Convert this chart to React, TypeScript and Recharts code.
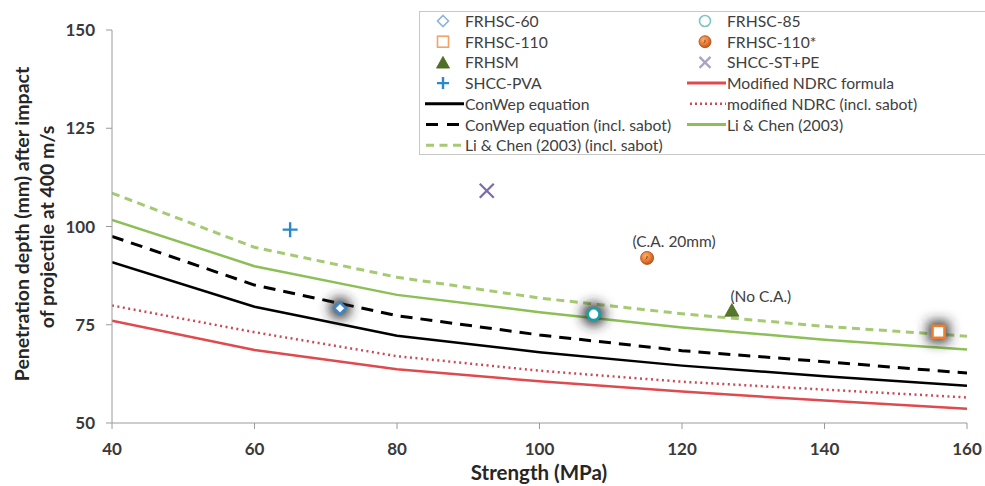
import React from 'react';
import { ComposedChart, Line, Scatter, XAxis, YAxis, Legend, LabelList } from 'recharts';

// Compressive strength (MPa) at which the predicted curves are evaluated
const strength = [40, 60, 80, 100, 120, 140, 160];

// Predicted penetration depth (mm)
const conwep = [90.9, 79.6, 72.2, 68.0, 64.6, 61.9, 59.5];
const conwepSabot = [97.5, 85.1, 77.3, 72.4, 68.4, 65.6, 62.7];
const ndrc = [76.0, 68.6, 63.7, 60.6, 58.0, 55.7, 53.6];
const ndrcSabot = [79.9, 73.1, 67.0, 63.3, 60.5, 58.5, 56.5];
const liChen = [101.7, 89.9, 82.6, 78.2, 74.3, 71.2, 68.7];
const liChenSabot = [108.5, 94.7, 87.1, 81.8, 77.8, 74.6, 72.1];

// Test results
const frhsc60 = [{ x: 72.0, y: 79.2 }];
const frhsc85 = [{ x: 107.6, y: 77.7 }];
const frhsc110 = [{ x: 156.0, y: 73.2 }];
const frhsc110Star = [{ x: 115.1, y: 92.0, note: '(C.A. 20mm)' }];
const frhsm = [{ x: 127.0, y: 78.6, note: '(No C.A.)' }];
const shccStPe = [{ x: 92.6, y: 109.1 }];
const shccPva = [{ x: 65.0, y: 99.2 }];

const xTicks = [40, 60, 80, 100, 120, 140, 160];
const yTicks = [50, 75, 100, 125, 150];

const rows = (ys: number[]) => strength.map((x, i) => ({ x, y: ys[i] }));

const FONT = 'Lato, "Open Sans", sans-serif';
const TEXT = '#404040';

const C = {
  ndrc: '#e04a4e',
  ndrcDot: '#cc4a58',
  green: '#8cbf55',
  greenDash: '#a6ca73',
  diamond: '#3f86c6',
  circle: '#1a9fa6',
  square: '#f07d2c',
  tri: '#56772a',
  cross: '#7b6bab',
  plus: '#2b89c8',
};

const Glow = ({ id, children }: { id: string; children: React.ReactNode }) => (
  <>
    <defs>
      <filter id={id} x="-150%" y="-150%" width="400%" height="400%">
        <feGaussianBlur stdDeviation="6" />
      </filter>
    </defs>
    {children}
  </>
);

const DiamondShape = (p: any) => {
  const { cx, cy } = p;
  const s = 6;
  return (
    <g>
      <Glow id="glow-diamond">
        <circle cx={cx} cy={cy} r={11} fill="#2a2a2a" fillOpacity={0.9} filter="url(#glow-diamond)" />
      </Glow>
      <path
        d={`M${cx},${cy - s} L${cx + s},${cy} L${cx},${cy + s} L${cx - s},${cy} Z`}
        fill="#fff"
        stroke={C.diamond}
        strokeWidth={2.5}
      />
    </g>
  );
};

const CircleShape = (p: any) => {
  const { cx, cy } = p;
  return (
    <g>
      <Glow id="glow-circle">
        <circle cx={cx} cy={cy} r={12} fill="#2a2a2a" fillOpacity={0.9} filter="url(#glow-circle)" />
      </Glow>
      <circle cx={cx} cy={cy} r={6} fill="#fff" stroke={C.circle} strokeWidth={2.8} />
    </g>
  );
};

const SquareShape = (p: any) => {
  const { cx, cy } = p;
  return (
    <g>
      <Glow id="glow-square">
        <rect x={cx - 11} y={cy - 11} width={22} height={22} fill="#2a2a2a" fillOpacity={0.9} filter="url(#glow-square)" />
      </Glow>
      <rect x={cx - 6} y={cy - 6} width={12} height={12} fill="#fff" stroke={C.square} strokeWidth={2.6} />
    </g>
  );
};

const SphereShape = (p: any) => {
  const { cx, cy, r = 6.5, gid = 'sphere-grad' } = p;
  return (
    <g>
      <defs>
        <radialGradient id={gid} cx="40%" cy="35%" r="70%">
          <stop offset="0%" stopColor="#f8b47c" />
          <stop offset="55%" stopColor="#ea7a2e" />
          <stop offset="100%" stopColor="#b9501a" />
        </radialGradient>
      </defs>
      <circle cx={cx} cy={cy} r={r} fill={`url(#${gid})`} stroke="#a9481a" strokeWidth={0.8} />
      <path
        d={`M${cx - 1.5},${cy + 1.5} q2,-1 1.5,-3.5`}
        fill="none"
        stroke="#8a3a10"
        strokeWidth={1}
      />
    </g>
  );
};

const TriangleShape = (p: any) => {
  const { cx, cy, s = 7, fill = C.tri } = p;
  return (
    <path
      d={`M${cx},${cy - s} L${cx + s},${cy + s * 0.8} L${cx - s},${cy + s * 0.8} Z`}
      fill={fill}
      stroke="#4a6a22"
      strokeWidth={0.8}
    />
  );
};

const CrossShape = (p: any) => {
  const { cx, cy, s = 7, color = C.cross } = p;
  return (
    <path
      d={`M${cx - s},${cy - s} L${cx + s},${cy + s} M${cx - s},${cy + s} L${cx + s},${cy - s}`}
      stroke={color}
      strokeWidth={2.2}
      fill="none"
    />
  );
};

const PlusShape = (p: any) => {
  const { cx, cy, s = 7.5 } = p;
  return (
    <path
      d={`M${cx - s},${cy} L${cx + s},${cy} M${cx},${cy - s} L${cx},${cy + s}`}
      stroke={C.plus}
      strokeWidth={2.4}
      fill="none"
    />
  );
};

const noteOffsets: Record<string, { dx: number; dy: number }> = {
  '(C.A. 20mm)': { dx: 27, dy: -17 },
  '(No C.A.)': { dx: 29, dy: -15 },
};

const NoteLabel = (props: any) => {
  const { x, y, width, height, value } = props;
  if (!value) return null;
  const off = noteOffsets[value] || { dx: 0, dy: -14 };
  const cx = x + (width || 0) / 2;
  const cy = y + (height || 0) / 2;
  return (
    <text
      x={cx + off.dx}
      y={cy + off.dy}
      textAnchor="middle"
      dominantBaseline="central"
      fill={TEXT}
      fontFamily={FONT}
      fontSize={15.5}
    >
      {value}
    </text>
  );
};

type LegendItem = { name: string; col: number; row: number; icon: (x: number, y: number) => React.ReactNode };

const lineIcon = (color: string, dash?: string, width = 3, x0 = 0, x1 = 39) => (x: number, y: number) => (
  <line x1={x + x0} y1={y} x2={x + x1} y2={y} stroke={color} strokeWidth={width} strokeDasharray={dash} />
);

const legendItems: LegendItem[] = [
  {
    name: 'FRHSC-60', col: 0, row: 0,
    icon: (x, y) => (
      <path d={`M${x},${y - 5.5} L${x + 5.5},${y} L${x},${y + 5.5} L${x - 5.5},${y} Z`} fill="#fff" stroke="#8db3d8" strokeWidth={1.6} />
    ),
  },
  { name: 'FRHSC-85', col: 1, row: 0, icon: (x, y) => <circle cx={x} cy={y} r={5.5} fill="#fff" stroke="#7fc3c6" strokeWidth={1.6} /> },
  { name: 'FRHSC-110', col: 0, row: 1, icon: (x, y) => <rect x={x - 5.5} y={y - 5.5} width={11} height={11} fill="#fff" stroke="#f2a26a" strokeWidth={1.6} /> },
  { name: 'FRHSC-110*', col: 1, row: 1, icon: (x, y) => <SphereShape cx={x} cy={y} r={6} gid="sphere-grad-legend" /> },
  { name: 'FRHSM', col: 0, row: 2, icon: (x, y) => <TriangleShape cx={x} cy={y + 0.5} s={6.5} fill="#4f6f26" /> },
  { name: 'SHCC-ST+PE', col: 1, row: 2, icon: (x, y) => <CrossShape cx={x} cy={y} s={5.5} color="#aaa2c4" /> },
  { name: 'SHCC-PVA', col: 0, row: 3, icon: (x, y) => <PlusShape cx={x} cy={y} s={6} /> },
  { name: 'Modified NDRC formula', col: 1, row: 3, icon: lineIcon(C.ndrc) },
  { name: 'ConWep equation', col: 0, row: 4, icon: lineIcon('#000') },
  { name: 'modified NDRC (incl. sabot)', col: 1, row: 4, icon: lineIcon(C.ndrcDot, '2 3', 2.5, 3, 39) },
  { name: 'ConWep equation (incl. sabot)', col: 0, row: 5, icon: lineIcon('#000', '12 9', 3.2, 1, 39) },
  { name: 'Li & Chen (2003)', col: 1, row: 5, icon: lineIcon(C.green) },
  { name: 'Li & Chen (2003) (incl. sabot)', col: 0, row: 6, icon: lineIcon(C.greenDash, '8 5.5', 3, 1, 39) },
];

const colIcon = [24, 286];
const colLine = [6, 268];
const colText = [46, 308];
const rowY = [10, 30.7, 51.4, 72.1, 92.8, 113.5, 134.2];

const LegendBox = () => (
  <svg width={570} height={144} style={{ display: 'block', overflow: 'visible' }}>
    <rect x={0.5} y={0.5} width={575} height={143} fill="#fff" stroke="#c8c8c8" strokeWidth={1} />
    {legendItems.map((it) => {
      const isLine = it.row >= 3 && !(it.col === 0 && it.row === 3);
      const ix = isLine ? colLine[it.col] : colIcon[it.col];
      return (
        <g key={it.name}>
          {it.icon(ix, rowY[it.row])}
          <text
            x={colText[it.col]}
            y={rowY[it.row]}
            dominantBaseline="central"
            fill={TEXT}
            fontFamily={FONT}
            fontSize={15.7}
          >
            {it.name}
          </text>
        </g>
      );
    })}
  </svg>
);

const YTitle = () => (
  <g fontFamily={FONT} fontSize={19.5} fontWeight={700} fill="#262626">
    <text transform="translate(22,224) rotate(-90)" textAnchor="middle" dy="0.35em">
      Penetration depth (mm) after impact
    </text>
    <text transform="translate(47,227) rotate(-90)" textAnchor="middle" dy="0.35em">
      of projectile at 400 m/s
    </text>
  </g>
);

const XTitle = () => (
  <text x={539} y={472} textAnchor="middle" dominantBaseline="central" fontFamily={FONT} fontSize={20.5} fontWeight={700} fill="#262626">
    Strength (MPa)
  </text>
);

const tickStyle = { fill: '#3a3a3a', fontSize: 17, fontWeight: 700, fontFamily: FONT };

export default function App() {
  return (
    <div style={{ position: 'absolute', left: 0, top: 0, width: 985, height: 486, overflow: 'hidden', background: '#fff' }}>
      <ComposedChart width={985} height={486} margin={{ top: 30, right: 18, bottom: 0, left: 0 }}>
        <XAxis
          type="number"
          dataKey="x"
          domain={[40, 160]}
          ticks={xTicks}
          allowDataOverflow
          height={63}
          stroke="#9a9a9a"
          tickSize={6}
          tickMargin={14}
          tick={tickStyle}
          label={{ content: () => <XTitle /> }}
        />
        <YAxis
          type="number"
          dataKey="y"
          domain={[50, 150]}
          ticks={yTicks}
          allowDataOverflow
          width={112}
          stroke="#9a9a9a"
          tickSize={6}
          tickMargin={11}
          tick={tickStyle}
          label={{ content: () => <YTitle /> }}
        />
        <Legend
          layout="vertical"
          align="center"
          verticalAlign="middle"
          content={() => <LegendBox />}
          wrapperStyle={{ position: 'absolute', left: 419, top: 11, width: 570, height: 144 }}
        />
        <Line data={rows(ndrc)} dataKey="y" type="linear" stroke={C.ndrc} strokeWidth={2.5} dot={false} isAnimationActive={false} legendType="none" />
        <Line data={rows(ndrcSabot)} dataKey="y" type="linear" stroke={C.ndrcDot} strokeWidth={2.5} strokeDasharray="2 3.5" dot={false} isAnimationActive={false} legendType="none" />
        <Line data={rows(conwep)} dataKey="y" type="linear" stroke="#000" strokeWidth={2.5} dot={false} isAnimationActive={false} legendType="none" />
        <Line data={rows(conwepSabot)} dataKey="y" type="linear" stroke="#000" strokeWidth={3} strokeDasharray="12 8" dot={false} isAnimationActive={false} legendType="none" />
        <Line data={rows(liChen)} dataKey="y" type="linear" stroke={C.green} strokeWidth={2.5} dot={false} isAnimationActive={false} legendType="none" />
        <Line data={rows(liChenSabot)} dataKey="y" type="linear" stroke={C.greenDash} strokeWidth={3} strokeDasharray="8 5.5" dot={false} isAnimationActive={false} legendType="none" />
        <Scatter data={shccPva} shape={PlusShape} isAnimationActive={false} legendType="none" />
        <Scatter data={shccStPe} shape={CrossShape} isAnimationActive={false} legendType="none" />
        <Scatter data={frhsc60} shape={DiamondShape} isAnimationActive={false} legendType="none" />
        <Scatter data={frhsc85} shape={CircleShape} isAnimationActive={false} legendType="none" />
        <Scatter data={frhsc110} shape={SquareShape} isAnimationActive={false} legendType="none" />
        <Scatter data={frhsc110Star} shape={SphereShape} isAnimationActive={false} legendType="none">
          <LabelList dataKey="note" content={NoteLabel} />
        </Scatter>
        <Scatter data={frhsm} shape={TriangleShape} isAnimationActive={false} legendType="none">
          <LabelList dataKey="note" content={NoteLabel} />
        </Scatter>
      </ComposedChart>
    </div>
  );
}
